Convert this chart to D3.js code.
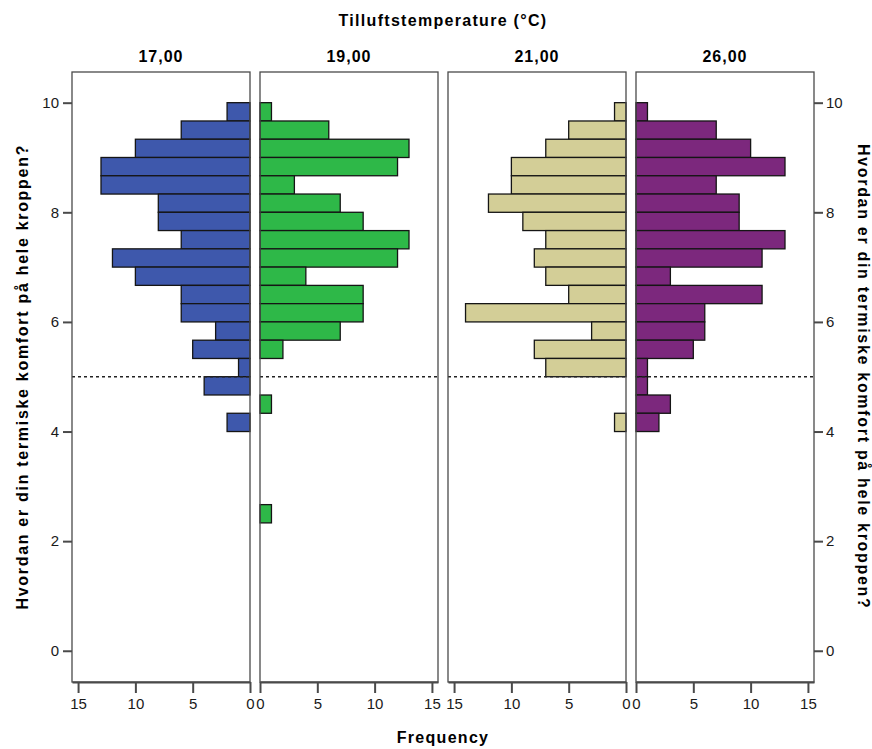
<!DOCTYPE html>
<html>
<head>
<meta charset="utf-8">
<script src="https://cdn.jsdelivr.net/npm/d3@7/dist/d3.min.js"></script>
<style>
	body { margin: 0; background: #fff; }
	svg text { font-family: "Liberation Sans", Arial, sans-serif; }
</style>
</head>
<body>
<svg id="chart" width="872" height="749"></svg>
<script>
// panel categories (Tilluftstemperatur)
var categories = ['17,00', '19,00', '21,00', '26,00'];
var colors = ['#3E58AC', '#2EB848', '#D3CE97', '#7C287D'];
var directions = ['left', 'right', 'left', 'right'];

// lower edge of each bin, bin width 1/3 (top bin first)
var binLow = [9.667, 9.333, 9, 8.667, 8.333, 8, 7.667, 7.333, 7, 6.667, 6.333, 6,
	5.667, 5.333, 5, 4.667, 4.333, 4, 3.667, 3.333, 3, 2.667, 2.333];
var binWidth = 1 / 3;

// frequencies per bin
var freq17 = [2, 6, 10, 13, 13, 8, 8, 6, 12, 10, 6, 6, 3, 5, 1, 4, 0, 2, 0, 0, 0, 0, 0];
var freq19 = [1, 6, 13, 12, 3, 7, 9, 13, 12, 4, 9, 9, 7, 2, 0, 0, 1, 0, 0, 0, 0, 0, 1];
var freq21 = [1, 5, 7, 10, 10, 12, 9, 7, 8, 7, 5, 14, 3, 8, 7, 0, 0, 1, 0, 0, 0, 0, 0];
var freq26 = [1, 7, 10, 13, 7, 9, 9, 13, 11, 3, 11, 6, 6, 5, 1, 1, 3, 2, 0, 0, 0, 0, 0];
var series = [freq17, freq19, freq21, freq26];

var yTicks = [0, 2, 4, 6, 8, 10];
var xTicks = [0, 5, 10, 15];
var refLine = 5;

var yTitle = 'Hvordan er din termiske komfort på hele kroppen?';

var svg = d3.select('#chart');

var plotTop = 72, plotBottom = 682;
var panelW = 178, panelGap = 10, left0 = 72;

var y = d3.scaleLinear().domain([-0.57, 10.56]).range([plotBottom, plotTop]);

var axisColor = '#4a4a4a';

categories.forEach(function(cat, i){
	var px = left0 + i * (panelW + panelGap);
	var g = svg.append('g').attr('transform', 'translate(' + px + ',0)');

	var x = d3.scaleLinear().domain([0, 15.53]);
	if (directions[i] == 'left'){
		x.range([panelW, 0]);
	}else{
		x.range([0, panelW]);
	}

	var bins = series[i].map(function(v, k){
		return {lo: binLow[k], hi: binLow[k] + binWidth, n: v};
	}).filter(function(d){ return d.n > 0; });

	g.selectAll('rect.bar')
		.data(bins)
		.enter()
		.append('rect')
		.attr('class', 'bar')
		.attr('x', function(d){ return Math.min(x(0), x(d.n)); })
		.attr('y', function(d){ return y(d.hi); })
		.attr('width', function(d){ return Math.abs(x(d.n) - x(0)); })
		.attr('height', function(d){ return y(d.lo) - y(d.hi); })
		.attr('fill', colors[i])
		.attr('stroke', '#151515')
		.attr('stroke-width', 1.3);

	// reference line
	g.append('line')
		.attr('x1', 0)
		.attr('x2', panelW)
		.attr('y1', y(refLine))
		.attr('y2', y(refLine))
		.attr('stroke', '#222')
		.attr('stroke-width', 1.6)
		.attr('stroke-dasharray', '3,3');

	// frame
	g.append('rect')
		.attr('x', 0)
		.attr('y', plotTop)
		.attr('width', panelW)
		.attr('height', plotBottom - plotTop)
		.attr('fill', 'none')
		.attr('stroke', axisColor)
		.attr('stroke-width', 1.3);

	// bottom axis
	var xAxis = d3.axisBottom(x).tickValues(xTicks).tickSize(11).tickSizeOuter(0).tickPadding(5);
	var ax = g.append('g')
		.attr('transform', 'translate(0,' + plotBottom + ')')
		.call(xAxis);
	ax.select('.domain').attr('stroke', axisColor).attr('stroke-width', 2);
	ax.selectAll('.tick line').attr('stroke', axisColor).attr('stroke-width', 2);
	ax.selectAll('.tick text')
		.attr('fill', '#1a1a1a')
		.style('font-size', '15px');

	// panel label
	svg.append('text')
		.attr('x', px + panelW / 2)
		.attr('y', 62)
		.attr('text-anchor', 'middle')
		.style('font-size', '16px')
		.style('font-weight', 'bold')
		.style('letter-spacing', '1px')
		.text(cat);
});

// left y-axis
var yAxisL = svg.append('g')
	.attr('transform', 'translate(' + left0 + ',0)')
	.call(d3.axisLeft(y).tickValues(yTicks).tickSize(9).tickPadding(4));
yAxisL.select('.domain').remove();

// right y-axis
var rightX = left0 + 4 * panelW + 3 * panelGap;
var yAxisR = svg.append('g')
	.attr('transform', 'translate(' + rightX + ',0)')
	.call(d3.axisRight(y).tickValues(yTicks).tickSize(9).tickPadding(3));
yAxisR.select('.domain').remove();

[yAxisL, yAxisR].forEach(function(a){
	a.selectAll('.tick line').attr('stroke', axisColor).attr('stroke-width', 2);
	a.selectAll('.tick text').attr('fill', '#1a1a1a').style('font-size', '15px');
});

// titles
svg.append('text')
	.attr('x', (left0 + rightX) / 2)
	.attr('y', 26)
	.attr('text-anchor', 'middle')
	.style('font-size', '16px')
	.style('font-weight', 'bold')
	.style('letter-spacing', '1.3px')
	.text('Tilluftstemperature (°C)');

svg.append('text')
	.attr('x', (left0 + rightX) / 2)
	.attr('y', 743)
	.attr('text-anchor', 'middle')
	.style('font-size', '16px')
	.style('font-weight', 'bold')
	.style('letter-spacing', '1.3px')
	.text('Frequency');

svg.append('text')
	.attr('transform', 'translate(28,' + y(5) + ') rotate(-90)')
	.attr('text-anchor', 'middle')
	.style('font-size', '16px')
	.style('font-weight', 'bold')
	.style('letter-spacing', '1.7px')
	.text(yTitle);

svg.append('text')
	.attr('transform', 'translate(858,' + y(5) + ') rotate(90)')
	.attr('text-anchor', 'middle')
	.style('font-size', '16px')
	.style('font-weight', 'bold')
	.style('letter-spacing', '1.7px')
	.text(yTitle);
</script>
</body>
</html>
